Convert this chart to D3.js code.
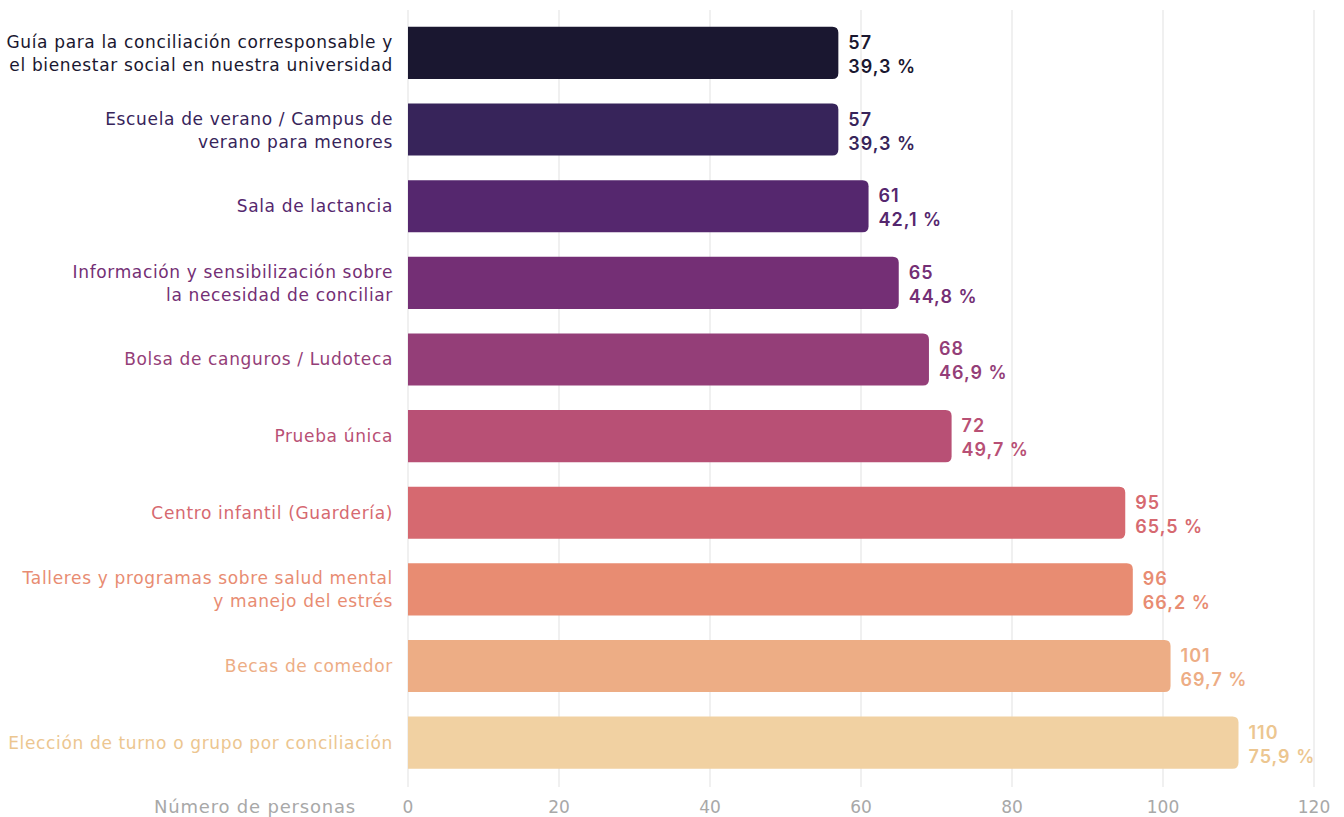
<!DOCTYPE html>
<html lang="es">
  <head>
    <meta charset="UTF-8" />
    <title>Medidas de conciliación</title>
    <script src="https://d3js.org/d3.v7.min.js"></script>
    <style>
      body { margin: 0; background: #fff; }
      text { font-family: "DejaVu Sans", "Noto Sans", sans-serif; }
      .val { font-family: Inter, "Noto Sans", sans-serif; font-weight: 600; }
    </style>
  </head>
  <body>
    <div id="chart"></div>
    <script>
      var labels = [
        ["Guía para la conciliación corresponsable y", "el bienestar social en nuestra universidad"],
        ["Escuela de verano / Campus de", "verano para menores"],
        ["Sala de lactancia"],
        ["Información y sensibilización sobre", "la necesidad de conciliar"],
        ["Bolsa de canguros / Ludoteca"],
        ["Prueba única"],
        ["Centro infantil (Guardería)"],
        ["Talleres y programas sobre salud mental", "y manejo del estrés"],
        ["Becas de comedor"],
        ["Elección de turno o grupo por conciliación"]
      ];
      // numbers printed next to each bar
      var counts = [57, 57, 61, 65, 68, 72, 95, 96, 101, 110];
      // bar lengths as drawn in the picture (the 5th bar reaches 69)
      var barValues = [57, 57, 61, 65, 69, 72, 95, 96, 101, 110];
      var percents = ["39,3 %", "39,3 %", "42,1 %", "44,8 %", "46,9 %", "49,7 %", "65,5 %", "66,2 %", "69,7 %", "75,9 %"];
      var colors = ["#1a1730", "#37245a", "#55276e", "#742f75", "#943e78", "#b85075", "#d66970", "#e88c72", "#edad85", "#f1d1a2"];
      var textColors = ["#1a1730", "#37245a", "#55276e", "#742f75", "#943e78", "#b85075", "#d66970", "#e88c72", "#edad85", "#ecc690"];
      var xTicks = [0, 20, 40, 60, 80, 100, 120];

      var width = 1344, height = 817;
      var svg = d3.select("#chart").append("svg")
        .attr("width", width)
        .attr("height", height);

      var x = d3.scaleLinear().domain([0, 120]).range([408, 1314]);
      var y = d3.scaleBand().domain(d3.range(counts.length)).range([14.6, 781]).paddingInner(0.32).paddingOuter(0.16);

      // grid
      svg.append("g").selectAll("line").data(xTicks).join("line")
        .attr("x1", d => x(d)).attr("x2", d => x(d))
        .attr("y1", 10).attr("y2", 787)
        .attr("stroke", "#ebebeb").attr("stroke-width", 1.5);

      // axis labels
      svg.append("g").selectAll("text").data(xTicks).join("text")
        .attr("x", d => x(d)).attr("y", 813)
        .attr("text-anchor", "middle")
        .attr("fill", "#a8a8a8")
        .style("font-size", "17px")
        .text(d => d);

      svg.append("text")
        .attr("x", 356).attr("y", 813)
        .attr("text-anchor", "end")
        .attr("fill", "#a8a8a8")
        .style("font-size", "18px")
        .style("letter-spacing", "0.8px")
        .text("Número de personas");

      function barPath(x0, x1, y0, h, r) {
        return "M" + x0 + "," + y0 +
          "H" + (x1 - r) +
          "Q" + x1 + "," + y0 + " " + x1 + "," + (y0 + r) +
          "V" + (y0 + h - r) +
          "Q" + x1 + "," + (y0 + h) + " " + (x1 - r) + "," + (y0 + h) +
          "H" + x0 + "Z";
      }

      var rows = svg.append("g").selectAll("g").data(barValues).join("g");

      rows.append("path")
        .attr("d", (d, i) => barPath(x(0), x(d), y(i), y.bandwidth(), 6))
        .attr("fill", (d, i) => colors[i]);

      rows.append("text")
        .attr("class", "val")
        .attr("x", d => x(d) + 10)
        .attr("y", (d, i) => y(i) + y.bandwidth() / 2 - 4)
        .attr("fill", (d, i) => textColors[i])
        .style("font-size", "18px")
        .style("letter-spacing", "1px")
        .text((d, i) => counts[i]);

      rows.append("text")
        .attr("class", "val")
        .attr("x", d => x(d) + 10)
        .attr("y", (d, i) => y(i) + y.bandwidth() / 2 + 20)
        .attr("fill", (d, i) => textColors[i])
        .style("font-size", "18px")
        .style("letter-spacing", "1px")
        .text((d, i) => percents[i]);

      rows.append("text")
        .attr("x", 393)
        .attr("y", (d, i) => y(i) + y.bandwidth() / 2 + 6 - (labels[i].length - 1) * 11)
        .attr("text-anchor", "end")
        .attr("fill", (d, i) => textColors[i])
        .style("font-size", "17px")
        .style("letter-spacing", "0.65px")
        .selectAll("tspan")
        .data((d, i) => labels[i])
        .join("tspan")
        .attr("x", 393)
        .attr("dy", (t, j) => j === 0 ? 0 : 23)
        .text(t => t);
    </script>
  </body>
</html>
